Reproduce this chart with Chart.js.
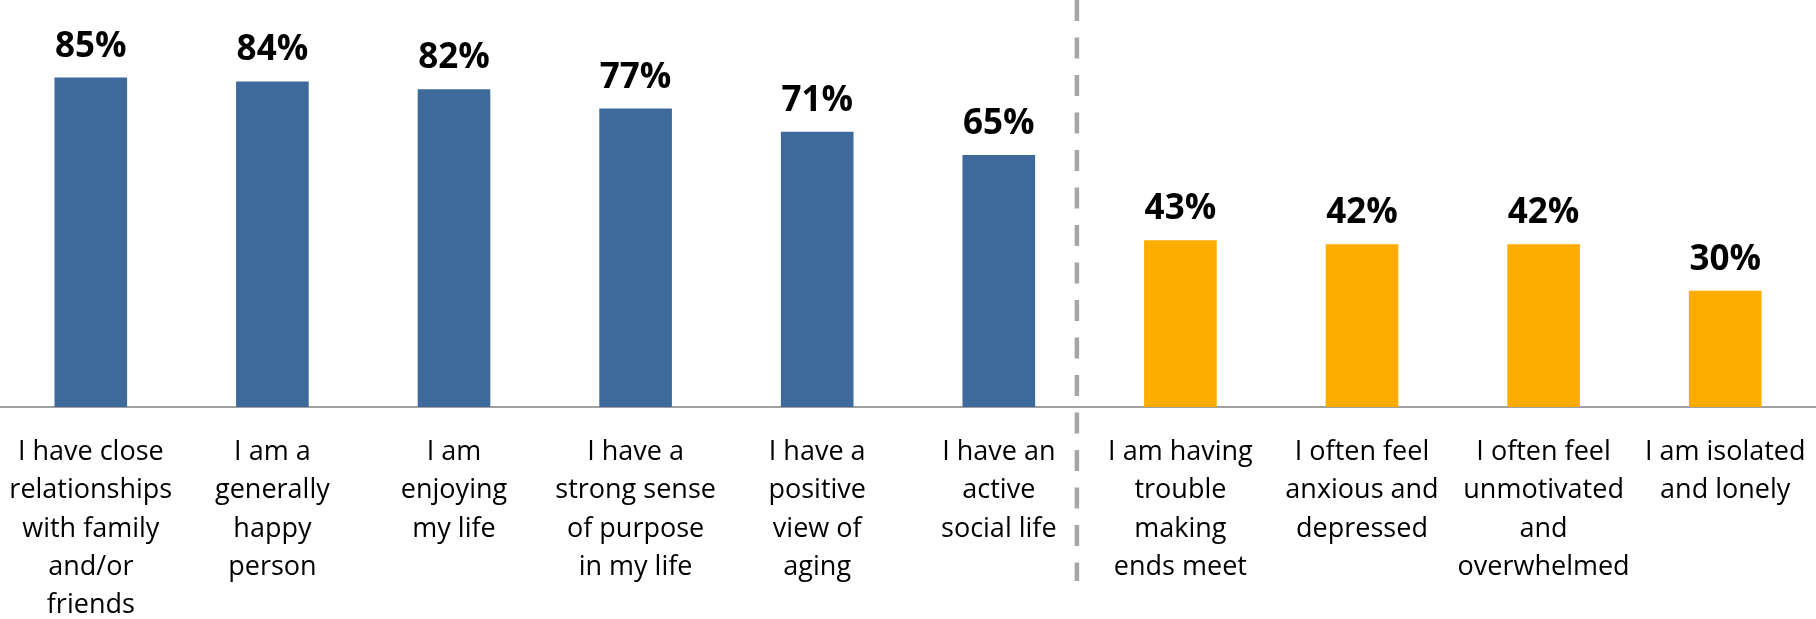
<!DOCTYPE html>
<html>
<head>
<meta charset="utf-8">
<script src="https://cdn.jsdelivr.net/npm/chart.js@4"></script>
<style>
  html, body { margin: 0; padding: 0; background: #fff; }
  #wrap { width: 1816px; height: 619px; position: relative; }
</style>
</head>
<body>
<div id="wrap"><canvas id="chart"></canvas></div>
<script>
// categories, one array of lines per bar
var categories = [
    ["I have close", "relationships", "with family", "and/or", "friends"],
    ["I am a", "generally", "happy", "person"],
    ["I am", "enjoying", "my life"],
    ["I have a", "strong sense", "of purpose", "in my life"],
    ["I have a", "positive", "view of", "aging"],
    ["I have an", "active", "social life"],
    ["I am having", "trouble", "making", "ends meet"],
    ["I often feel", "anxious and", "depressed"],
    ["I often feel", "unmotivated", "and", "overwhelmed"],
    ["I am isolated", "and lonely"]
];
var values = [85, 84, 82, 77, 71, 65, 43, 42, 42, 30];
var value_labels = ["85%", "84%", "82%", "77%", "71%", "65%", "43%", "42%", "42%", "30%"];
var positive_count = 6;

var blue = "#3E6A9B";
var orange = "#FFAC00";

function bar_colors(n, split) {
    var out = [];
    for (var i = 0; i < n; i++) {
        out.push(i < split ? blue : orange);
    }
    return out;
}

// value text above each bar
var value_plugin = {
    id: "valueLabels",
    afterDatasetsDraw: function(chart) {
        var ctx = chart.ctx;
        var meta = chart.getDatasetMeta(0);
        ctx.save();
        ctx.font = "bold 35px 'Open Sans'";
        ctx.fillStyle = "#000";
        ctx.textAlign = "center";
        ctx.textBaseline = "alphabetic";
        meta.data.forEach(function(bar, i) {
            ctx.fillText(value_labels[i], bar.x, bar.y - 21);
        });
        ctx.restore();
    }
};

// dashed divider between the two groups
var divider_plugin = {
    id: "divider",
    afterDraw: function(chart) {
        var x = chart.scales.x;
        var p0 = x.getPixelForValue(positive_count - 1);
        var p1 = x.getPixelForValue(positive_count);
        var px = p0 + 0.43 * (p1 - p0);
        var ctx = chart.ctx;
        ctx.save();
        ctx.strokeStyle = "#A6A6A6";
        ctx.lineWidth = 4.5;
        ctx.setLineDash([21, 16.5]);
        ctx.beginPath();
        ctx.moveTo(px, 0);
        ctx.lineTo(px, chart.height - 38);
        ctx.stroke();
        ctx.restore();
    }
};

var ctx = document.getElementById("chart").getContext("2d");
var myChart = new Chart(ctx, {
    type: "bar",
    data: {
        labels: categories,
        datasets: [{
            data: values,
            backgroundColor: bar_colors(values.length, positive_count),
            borderWidth: 0,
            categoryPercentage: 1.0,
            barPercentage: 0.4
        }]
    },
    options: {
        responsive: true,
        maintainAspectRatio: false,
        animation: false,
        layout: { padding: 0 },
        plugins: {
            legend: { display: false },
            tooltip: { enabled: false }
        },
        scales: {
            y: {
                display: false,
                min: 0,
                max: 105
            },
            x: {
                grid: { display: false, drawTicks: false },
                border: { display: true, color: "#A0A0A0", width: 2 },
                ticks: {
                    autoSkip: false,
                    maxRotation: 0,
                    minRotation: 0,
                    padding: 26,
                    color: "#000",
                    font: { family: "'Open Sans'", size: 27, lineHeight: 1.42 }
                },
                afterFit: function(scale) {
                    scale.height = 212;
                    scale.paddingLeft = 0;
                    scale.paddingRight = 0;
                }
            }
        }
    },
    plugins: [value_plugin, divider_plugin]
});
</script>
</body>
</html>
